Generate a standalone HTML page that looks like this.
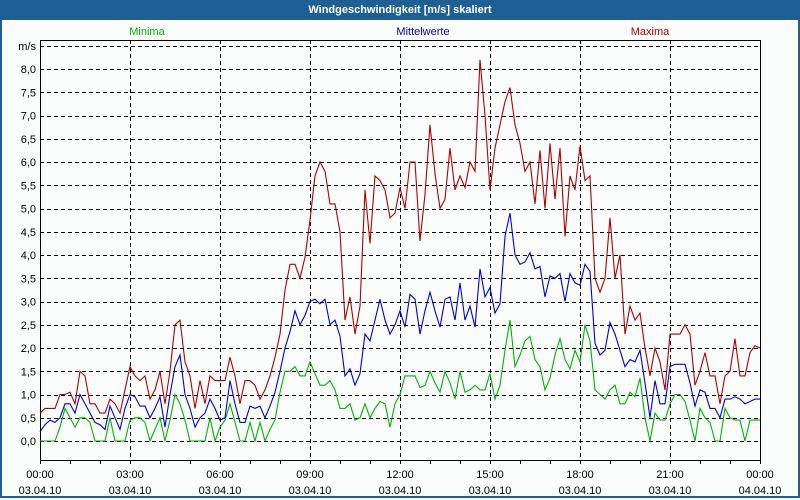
<!DOCTYPE html>
<html><head><meta charset="utf-8"><style>
html,body{margin:0;padding:0;}
body{width:800px;height:500px;overflow:hidden;background:#fff;font-family:"Liberation Sans",sans-serif;}
#wrap{position:absolute;left:0;top:0;width:796px;height:496px;border:2px solid #1e6094;border-top:none;background:#fbfdfd;}
#title{position:absolute;left:0;top:0;width:800px;height:20px;background:#1e6094;color:#fff;font-weight:bold;font-size:11px;line-height:21px;text-align:center;}
</style></head><body>
<div id="wrap"></div>
<div id="title">Windgeschwindigkeit [m/s] skaliert</div>
<svg id="chart" width="800" height="500" style="position:absolute;left:0;top:0"></svg>
<script>
const maxima=[0.6,0.7,0.7,0.7,1.0,1.0,1.05,0.8,1.5,1.4,0.8,0.8,0.6,0.6,0.9,0.8,0.6,1.1,1.6,1.4,1.3,1.4,0.9,1.1,1.5,0.8,1.5,2.5,2.6,1.7,1.4,0.7,1.3,0.8,1.4,1.3,1.3,1.3,1.8,1.4,0.8,1.3,1.3,1.2,0.9,1.1,1.4,1.8,2.3,3.25,3.8,3.8,3.5,3.95,4.75,5.7,6.0,5.8,5.1,5.1,4.5,2.6,3.1,2.3,2.9,5.4,4.25,5.7,5.6,5.4,4.8,4.9,5.45,5.0,6.0,6.0,4.3,5.3,6.8,5.75,5.0,5.2,6.3,5.4,5.7,5.45,6.0,5.8,8.2,7.0,5.4,6.3,6.8,7.3,7.6,6.8,6.4,5.8,6.0,5.1,6.25,5.0,6.4,5.2,6.3,4.4,5.7,5.4,6.35,5.6,5.7,3.5,3.2,3.5,4.8,3.5,4.0,2.3,2.9,2.6,2.75,2.0,1.4,2.0,1.7,1.1,2.3,2.3,2.3,2.5,2.3,1.2,1.5,1.9,1.4,1.4,0.8,1.4,1.5,2.2,1.4,1.4,1.9,2.05,2.0];
const mittel=[0.2,0.35,0.45,0.4,0.5,0.8,0.8,0.6,1.0,0.8,0.6,0.4,0.35,0.25,0.75,0.5,0.25,0.7,1.0,0.95,0.75,0.75,0.5,0.7,0.95,0.3,1.0,1.6,1.85,1.0,0.7,0.3,0.5,0.6,0.9,0.7,0.45,0.5,1.3,0.8,0.4,0.4,0.75,0.7,0.75,0.5,0.75,1.05,1.5,2.0,2.35,2.8,2.5,2.7,3.0,3.05,2.95,3.05,2.5,2.6,2.25,1.4,1.55,1.2,1.45,2.3,2.15,2.6,3.05,2.6,2.3,2.5,2.8,2.45,3.15,3.05,2.3,2.8,3.2,2.8,2.45,3.05,3.1,2.6,3.4,2.6,2.9,2.45,3.7,3.1,3.3,2.75,2.95,4.4,4.9,4.0,3.8,3.85,4.05,3.7,3.75,3.1,3.55,3.5,3.6,3.0,3.6,3.4,3.35,3.8,3.65,2.1,1.85,1.95,2.55,2.3,1.95,1.6,1.75,1.7,1.95,1.25,0.5,1.3,0.8,0.8,1.6,1.65,1.65,1.65,1.25,0.75,1.1,1.05,0.7,0.7,0.5,0.9,0.9,0.95,0.9,0.8,0.85,0.9,0.9];
const minima=[0,0,0,0,0.3,0.7,0.5,0.3,0.5,0.5,0.4,0,0,0,0.5,0,0,0,0.45,0.5,0.5,0.4,0,0.25,0.5,0,0.45,1.0,0.8,0.45,0,0,0,0,0.5,0,0.3,0.45,0.8,0.4,0,0,0.4,0,0.4,0,0.25,0.45,1.05,1.5,1.5,1.6,1.4,1.4,1.7,1.45,1.2,1.2,1.3,1.1,0.7,0.7,0.8,0.45,0.5,0.8,0.5,0.7,0.85,0.8,0.3,0.8,1.0,1.4,1.4,1.4,1.15,1.2,1.5,1.25,1.05,1.5,1.25,0.9,1.5,1.05,1.1,1.2,1.1,1.1,1.45,0.9,1.2,1.95,2.6,1.6,1.85,2.15,2.25,1.75,1.6,1.1,1.35,1.85,2.2,1.75,1.55,1.95,1.7,2.5,2.15,1.1,1.0,0.9,1.1,1.2,0.8,0.8,1.05,0.95,1.35,0.5,0,0.6,0.45,0.45,0.8,1.0,1.0,0.85,0.45,0,0.7,0.5,0.4,0,0,0.7,0.5,0.45,0.45,0,0.45,0.45,0.45];
const yTicks=["0,0","0,5","1,0","1,5","2,0","2,5","3,0","3,5","4,0","4,5","5,0","5,5","6,0","6,5","7,0","7,5","8,0"];
const xTimes=["00:00","03:00","06:00","09:00","12:00","15:00","18:00","21:00","00:00"];
const xDates=["03.04.10","03.04.10","03.04.10","03.04.10","03.04.10","03.04.10","03.04.10","03.04.10","04.04.10"];
const stepMin=10;
const L=40,R=760,T=40,B=460;
function xOf(minutes){return L+minutes/1440*(R-L);}
function yOf(v){return 441-v*46.5;}
const svg=document.getElementById('chart');
const NS='http://www.w3.org/2000/svg';
function mk(tag,attrs){const e=document.createElementNS(NS,tag);for(const k in attrs)e.setAttribute(k,attrs[k]);svg.appendChild(e);return e;}
// horizontal grid
for(let i=0;i<=17;i++){const y=Math.round(yOf(i*0.5))+0.5;
const g=mk('line',{x1:L,x2:R,y1:y,y2:y,stroke:'#000','stroke-dasharray':'4,3','stroke-width':1});

}
// vertical grid
for(let h=3;h<24;h+=3){const x=Math.round(xOf(h*60))+0.5;
const g=mk('line',{x1:x,x2:x,y1:T,y2:B,stroke:'#000','stroke-dasharray':'4,3','stroke-width':1});

}
// ticks
for(let h=0;h<=24;h++){const x=Math.round(xOf(h*60))+0.5;
const t=mk('line',{x1:x,x2:x,y1:B,y2:B+4,stroke:'#000'});

}
// frame
const fr=mk('rect',{x:L+0.5,y:T+0.5,width:R-L,height:B-T,fill:'none',stroke:'#000','stroke-width':1});


// y labels
yTicks.forEach((lab,i)=>{const t=mk('text',{x:36,y:yOf(i*0.5)+4,'text-anchor':'end','font-size':11,fill:'#000'});t.textContent=lab;

});
const u=mk('text',{x:36,y:50,'text-anchor':'end','font-size':11,fill:'#000'});u.textContent='m/s';


xTimes.forEach((lab,i)=>{const x=xOf(i*180);
const t=mk('text',{x:x,y:478,'text-anchor':'middle','font-size':11,fill:'#000'});t.textContent=lab;


const d=mk('text',{x:x,y:494,'text-anchor':'middle','font-size':11,fill:'#000'});d.textContent=xDates[i];

});
// legend
[['Minima',147,'#00b000','legend-minima'],['Mittelwerte',423,'#0000cc','legend-mittelwerte'],['Maxima',650,'#b00000','legend-maxima']].forEach(a=>{
const t=mk('text',{x:a[1],y:35,'text-anchor':'middle','font-size':11,fill:a[2]});t.textContent=a[0];

});
function series(arr,color,name){const pts=arr.map((v,i)=>xOf(i*stepMin).toFixed(1)+','+yOf(v).toFixed(1)).join(' ');
const p=mk('polyline',{points:pts,fill:'none',stroke:color,'stroke-width':1.1});

}
series(minima,'#00b400','minima-line');
series(mittel,'#0000e0','mittelwerte-line');
series(maxima,'#b00000','maxima-line');
</script>
</body></html>
